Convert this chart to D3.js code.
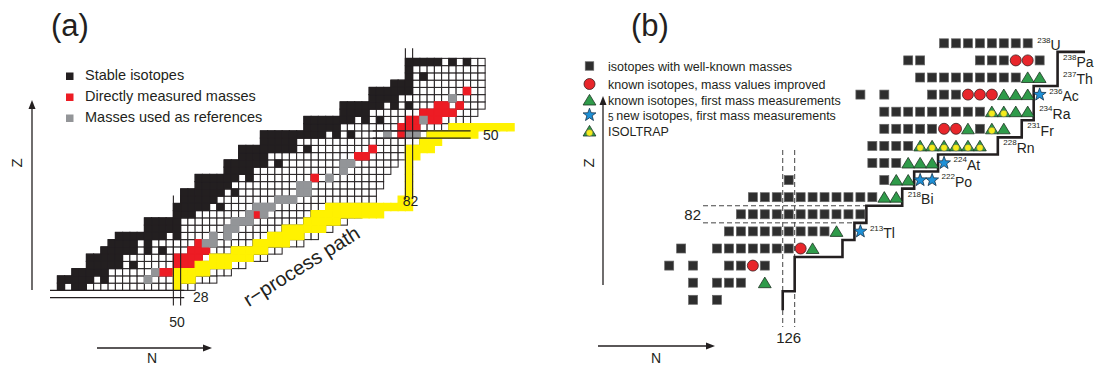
<!DOCTYPE html>
<html>
<head>
<meta charset="utf-8">
<script src="https://cdn.jsdelivr.net/npm/d3@7/dist/d3.min.js"></script>
<style>
  html, body { margin: 0; padding: 0; background: #fff; }
  svg { display: block; font-family: "Liberation Sans", Arial, Helvetica, sans-serif; }
</style>
</head>
<body>
<svg id="chart" width="1095" height="367"></svg>
<script>
// ---------- panel (a): nuclide chart, Z = 29 .. 60 ----------
const zFirst = 29;
// lowest / highest neutron number drawn in each row (Z = 29, 30, ...)
const nLow  = [34,34,36,38,38,40,41,42,46,46,50,50,51,51,53,53,57,57,59,59,62,62,68,68,73,73,77,77,80,82,82,82];
const nHigh = [52,55,57,59,62,64,67,69,71,73,75,76,77,77,78,78,79,80,81,82,83,84,87,90,91,92,92,92,92,92,92,92];
// black (stable) cells, neutron numbers per row
const stableN = [
  [34,36,37], [34,35,36,37,38,40], [36,37,38,39,40], [38,39,40,41,42,44], [38,39,40,41,42],
  [40,41,42,43,44,46,48], [41,42,43,44,46], [42,43,44,45,46,47,48,50], [46,47,48,49,50], [46,47,48,49,50],
  [50,51,52], [50,51,52,53,54,56], [51,52,53,54,55], [51,52,53,54,55,56,58], [53,54,55,56,57],
  [53,54,55,56,57,58,60], [57,58,59,60], [57,58,59,60,61,62,64], [59,60,61,62], [59,60,61,62,63,64,65,66,68],
  [62,63,64,65,66], [62,63,64,65,66,67,68,69,70,72,74], [68,69,70,71,72], [68,69,70,71,72,73,74,76,78],
  [73,74,75,76], [73,74,75,76,77,78,80,82], [77,78,79,80], [77,78,79,80,81,82], [80,81,82],
  [82,84], [82], [82,83,84,85,86,88,90]
];
// [Z, N]
const directlyMeasured = [
  [31,48],[31,49],[32,50],[33,50],[32,51],[32,52],[33,51],[33,52],[33,53],[34,52],[34,53],[34,54],[35,53],
  [39,61],[44,69],[47,75],[47,76],[48,77],[50,81],[51,81],[51,82],[51,83],[52,82],[52,83],[52,85],[52,86],
  [53,84],[53,85],[53,86],[53,87],[53,88],[54,86],[54,87],[54,89],[56,90]
];
const referenceMasses = [
  [30,46],[31,47],[35,54],[35,55],[36,55],[36,57],[37,57],[37,58],[38,58],[38,59],[38,60],[39,60],[39,62],
  [40,61],[40,62],[40,63],[41,64],[41,65],[41,66],[42,67],[42,68],[43,67],[43,68],[44,71],[45,73],[46,73],
  [46,74],[50,79],[50,82],[50,83],[52,84],[55,88]
];
// r-process path: [Z, N from, N to]
const rPath = [
  [29,50,50],[30,50,52],[31,50,54],[32,53,57],[33,55,60],[34,58,62],[35,61,65],[36,63,67],[37,65,70],
  [38,68,72],[39,69,78],[40,71,82],[41,81,82],[42,82,82],[43,82,82],[44,82,82],[45,82,82],[46,82,82],
  [47,82,83],[48,82,85],[49,84,86],[50,85,91],[51,88,96]
];
const legendA = ['Stable isotopes', 'Directly measured masses', 'Masses used as references'];

// ---------- panel (b): heavy neutron-rich region ----------
// [Z, N from, N to]
const wellKnownRuns = [
  [92,139,146],[91,136,137],[91,142,144],[91,147,147],[90,137,145],[89,132,132],[89,134,134],[89,138,140],
  [88,134,142],[87,134,138],[87,142,142],[86,133,136],[85,133,135],[84,126,126],[84,134,134],[83,123,133],
  [82,122,132],[81,121,129],[80,117,117],[80,120,126],[79,116,116],[79,118,118],[79,121,122],[79,124,124],
  [78,118,118],[78,120,122],[77,118,118],[77,120,120]
];
const massImproved = [[91,145],[91,146],[89,141],[89,142],[89,143],[87,139],[87,140],[80,127],[79,123]];
const firstMass = [
  [90,146],[90,147],[89,144],[89,145],[89,146],[88,145],[88,146],[87,141],[87,144],[85,136],[85,137],
  [85,138],[84,135],[84,136],[83,134],[83,135],[81,130],[80,128],[78,124]
];
const newIsotopes = [[89,147],[85,139],[84,137],[84,138],[81,132]];
const isoltrap = [[88,143],[88,144],[87,143],[86,137],[86,138],[86,139],[86,140],[86,141],[86,142]];
// border of known nuclides: last known N per row
const edgeZ = [77,78,79,80,81,82,83,84,85,86,87,88,89,90,91];
const edgeN = [125,126,126,130,131,132,135,136,138,143,145,146,146,148,148];
const labelZ = [92,91,90,89,88,87,86,85,84,83,81];
const labelA = [238,238,237,236,234,231,228,224,222,218,213];
const labelSym = ['U','Pa','Th','Ac','Ra','Fr','Rn','At','Po','Bi','Tl'];
const legendB = ['isotopes with well-known masses', 'known isotopes, mass values improved',
  'known isotopes, first mass measurements', 'new isotopes, first mass measurements', 'ISOLTRAP'];

const INK = '#231f20', RED = '#ed1c24', GREY = '#939598', YELLOW = '#fff200';
const svg = d3.select('#chart');

// ================= panel (a) =================
const xA = d3.scaleLinear().domain([50, 82]).range([177, 409]);
const yA = d3.scaleLinear().domain([28, 50]).range([294, 134.5]);
const cA = xA(51) - xA(50), hA = cA / 2;
const gA = svg.append('g');

const whiteCells = [];
nLow.forEach((lo, i) => { for (let n = lo; n <= nHigh[i]; n++) whiteCells.push([zFirst + i, n]); });
const blackCells = stableN.flatMap((row, i) => row.map(n => [zFirst + i, n]));
const yellowCells = rPath.flatMap(([z, a, b]) => d3.range(a, b + 1).map(n => [z, n]));

function cells(data, fill, stroke, sw) {
  gA.append('g').selectAll('rect').data(data).join('rect')
    .attr('x', d => xA(d[1]) - hA).attr('y', d => yA(d[0]) - hA)
    .attr('width', cA).attr('height', cA)
    .attr('fill', fill).attr('stroke', stroke).attr('stroke-width', sw);
}
cells(whiteCells, '#fff', INK, 1);
cells(blackCells, INK, INK, 1);
cells(directlyMeasured, RED, RED, 1.2);
cells(referenceMasses, GREY, GREY, 1.2);
cells(yellowCells, YELLOW, YELLOW, 1.2);

// magic-number double lines
const mag = gA.append('g').attr('stroke', INK).attr('stroke-width', 1.1);
[-hA, hA].forEach(o => {
  mag.append('line').attr('x1', 50).attr('x2', xA(51)).attr('y1', yA(28) + o).attr('y2', yA(28) + o);
  mag.append('line').attr('x1', xA(50) + o).attr('x2', xA(50) + o).attr('y1', yA(41.6)).attr('y2', yA(26.4));
  mag.append('line').attr('x1', xA(82) + o).attr('x2', xA(82) + o).attr('y1', yA(61.9)).attr('y2', yA(41.1));
  mag.append('line').attr('x1', xA(77)).attr('x2', xA(90.5)).attr('y1', yA(50) + o).attr('y2', yA(50) + o);
});
const magTxt = gA.append('g').attr('font-size', 14).attr('fill', INK);
magTxt.append('text').attr('x', xA(52.2)).attr('y', yA(27) + 0.5).text('28');
magTxt.append('text').attr('x', xA(50)).attr('y', yA(23.4)).attr('text-anchor', 'middle').text('50');
magTxt.append('text').attr('x', xA(82.2)).attr('y', yA(40.1)).attr('text-anchor', 'middle').text('82');
magTxt.append('text').attr('x', xA(92.2)).attr('y', yA(49.3)).text('50');

gA.append('text').attr('transform', 'translate(305,272) rotate(-32)')
  .attr('text-anchor', 'middle').attr('font-size', 20).attr('fill', INK).text('r\u2212process path');

// legend (a)
const legA = gA.append('g');
[INK, RED, GREY].forEach((c, i) => {
  legA.append('rect').attr('x', 66).attr('y', 72.5 + i * 21).attr('width', 7.5).attr('height', 7.5).attr('fill', c);
  legA.append('text').attr('x', 85).attr('y', 79.5 + i * 21).attr('font-size', 14.5).attr('fill', INK).text(legendA[i]);
});

// ================= panel (b) =================
const xB = d3.scaleLinear().domain([126, 146]).range([788.7, 1027.7]);
const yB = d3.scaleLinear().domain([82, 92]).range([214.3, 43.3]);
const pB = xB(127) - xB(126), hB = (yB(82) - yB(83)) / 2;
const gB = svg.append('g');
const edgeX = n => xB(n) + pB / 2;

// dashed magic lines
const dash = gB.append('g').attr('stroke', '#444').attr('stroke-width', 1).attr('stroke-dasharray', '5,3');
[-1, 1].forEach(s => {
  dash.append('line').attr('x1', 703).attr('x2', edgeX(132)).attr('y1', yB(82) + s * hB).attr('y2', yB(82) + s * hB);
  dash.append('line').attr('x1', xB(126) + s * pB / 2).attr('x2', xB(126) + s * pB / 2).attr('y1', 150).attr('y2', 327);
});
gB.append('text').attr('x', 701).attr('y', yB(82) + 5.5).attr('text-anchor', 'end').attr('font-size', 15).attr('fill', INK).text('82');
gB.append('text').attr('x', xB(126)).attr('y', 343).attr('text-anchor', 'middle').attr('font-size', 15).attr('fill', INK).text('126');

// border of known nuclides
const pts = [[edgeX(edgeN[0]), yB(edgeZ[0]) + hB + 2]];
edgeZ.forEach((z, i) => { pts.push([edgeX(edgeN[i]), yB(z) + hB]); pts.push([edgeX(edgeN[i]), yB(z) - hB]); });
pts.push([1085, yB(edgeZ[edgeZ.length - 1]) - hB]);
gB.append('path').attr('d', d3.line()(pts)).attr('fill', 'none').attr('stroke', INK).attr('stroke-width', 2.6);

// markers
const triPath = (cx, cy) => `M${cx},${cy - 5.6}L${cx + 6.4},${cy + 5}L${cx - 6.4},${cy + 5}Z`;
function starPath(cx, cy, R, r) {
  const p = d3.range(10).map(k => {
    const a = -Math.PI / 2 + k * Math.PI / 5, rad = k % 2 ? r : R;
    return [cx + rad * Math.cos(a), cy + rad * Math.sin(a)];
  });
  return 'M' + p.join('L') + 'Z';
}
function square(g, cx, cy, s) {
  g.append('rect').attr('x', cx - s / 2).attr('y', cy - s / 2).attr('width', s).attr('height', s)
    .attr('fill', '#2e2e2e').attr('stroke', '#666').attr('stroke-width', 0.7);
}
function circle(g, cx, cy) {
  g.append('circle').attr('cx', cx).attr('cy', cy).attr('r', 5.5).attr('fill', '#e8262b').attr('stroke', '#3a2020').attr('stroke-width', 0.8);
}
function triangle(g, cx, cy) {
  g.append('path').attr('d', triPath(cx, cy)).attr('fill', '#2f9b4a').attr('stroke', '#1d3322').attr('stroke-width', 0.8);
}
function isoTriangle(g, cx, cy) {
  triangle(g, cx, cy);
  g.append('circle').attr('cx', cx).attr('cy', cy + 1.8).attr('r', 3.3).attr('fill', '#f4ec1c').attr('stroke', '#555').attr('stroke-width', 0.4);
}
function star(g, cx, cy) {
  g.append('path').attr('d', starPath(cx, cy, 6.8, 2.8)).attr('fill', '#1e90d6').attr('stroke', '#16324a').attr('stroke-width', 0.8);
}

const mk = gB.append('g');
wellKnownRuns.forEach(([z, a, b]) => d3.range(a, b + 1).forEach(n => square(mk, xB(n), yB(z), 9)));
massImproved.forEach(([z, n]) => circle(mk, xB(n), yB(z)));
firstMass.forEach(([z, n]) => triangle(mk, xB(n), yB(z)));
isoltrap.forEach(([z, n]) => isoTriangle(mk, xB(n), yB(z)));
newIsotopes.forEach(([z, n]) => star(mk, xB(n), yB(z)));

// isotope labels, placed right of the last nuclide / the border line
labelZ.forEach((z, i) => {
  const n = labelA[i] - z;
  const k = edgeZ.indexOf(z);
  const x = Math.max(xB(n) + 9.5, k >= 0 ? edgeX(edgeN[k]) + 5.5 : 0);
  const t = gB.append('text').attr('x', x).attr('y', yB(z) + 6.8).attr('fill', INK);
  t.append('tspan').attr('font-size', 8).attr('dy', -7.5).text(labelA[i]);
  t.append('tspan').attr('font-size', 14).attr('dy', 7.5).text(labelSym[i]);
});

// legend (b)
const legB = gB.append('g');
const legY = [66, 84, 100, 115, 131];
square(legB, 589.5, legY[0], 8.5);
circle(legB, 589.5, legY[1]);
triangle(legB, 589.5, legY[2]);
star(legB, 589.5, legY[3]);
isoTriangle(legB, 589.5, legY[4]);
legendB.forEach((s, i) => {
  const t = legB.append('text').attr('x', 608).attr('y', legY[i] + 4.5).attr('font-size', 12.5).attr('fill', INK);
  if (i === 3) { t.append('tspan').attr('font-size', 10).attr('dy', 1).text('5 '); t.append('tspan').attr('dy', -1).text(s); }
  else t.text(s);
});

// ================= panel letters and axis arrows =================
svg.append('text').attr('x', 51).attr('y', 35.5).attr('font-size', 31).attr('fill', INK).text('(a)');
svg.append('text').attr('x', 631).attr('y', 35.5).attr('font-size', 31).attr('fill', INK).text('(b)');

function arrowUp(x, y0, y1, lx, ly) {
  svg.append('line').attr('x1', x).attr('x2', x).attr('y1', y0).attr('y2', y1 + 6).attr('stroke', INK).attr('stroke-width', 1.3);
  svg.append('path').attr('d', `M${x},${y1}L${x + 3.5},${y1 + 9}L${x - 3.5},${y1 + 9}Z`).attr('fill', INK);
  svg.append('text').attr('transform', `translate(${lx},${ly}) rotate(-90)`).attr('text-anchor', 'middle')
    .attr('font-size', 15).attr('fill', INK).text('Z');
}
function arrowRight(y, x0, x1, lx, ly) {
  svg.append('line').attr('x1', x0).attr('x2', x1 - 6).attr('y1', y).attr('y2', y).attr('stroke', INK).attr('stroke-width', 1.3);
  svg.append('path').attr('d', `M${x1},${y}L${x1 - 9},${y - 3.5}L${x1 - 9},${y + 3.5}Z`).attr('fill', INK);
  svg.append('text').attr('x', lx).attr('y', ly).attr('text-anchor', 'middle').attr('font-size', 14).attr('fill', INK).text('N');
}
arrowUp(32, 290, 100, 22, 163);
arrowUp(603, 285, 96, 594, 163);
arrowRight(348, 97, 212, 152, 363);
arrowRight(346, 598, 715, 656, 363);
</script>
</body>
</html>
